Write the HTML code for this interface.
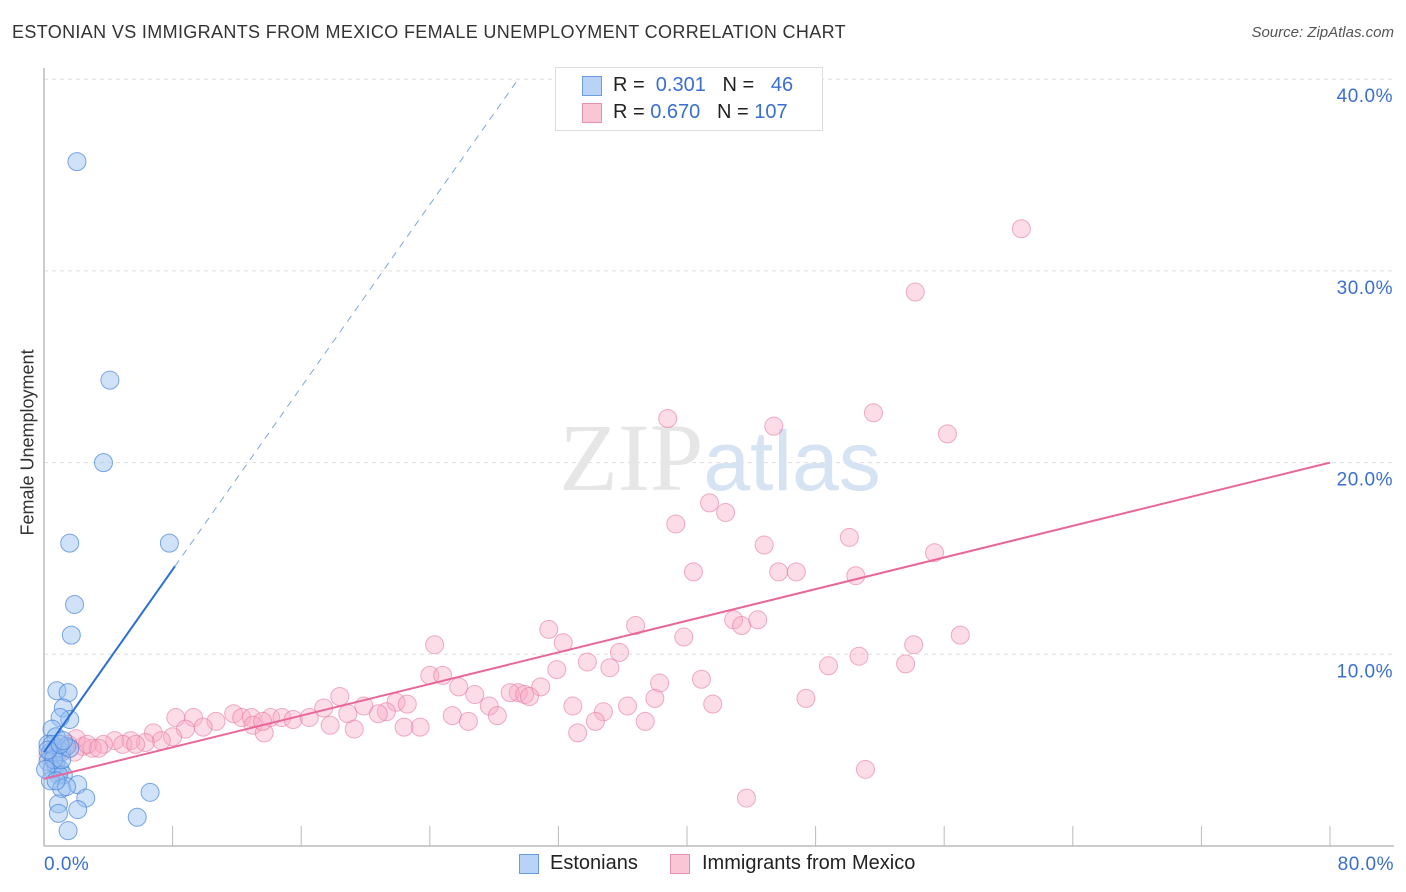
<!DOCTYPE html>
<html><head><meta charset="utf-8"><style>
body{margin:0;background:#fff;font-family:"Liberation Sans",sans-serif;}
#wrap{position:relative;width:1406px;height:892px;overflow:hidden;}
.t{position:absolute;white-space:nowrap;}
</style></head><body>
<div id="wrap">
<div class="t" style="left:12px;top:22px;font-size:18px;letter-spacing:0.35px;color:#333;">ESTONIAN VS IMMIGRANTS FROM MEXICO FEMALE UNEMPLOYMENT CORRELATION CHART</div>
<div class="t" style="right:12px;top:24px;font-size:15px;color:#555;font-style:italic;">Source: ZipAtlas.com</div>
<div class="t" style="left:-52px;top:445px;font-size:18px;color:#333;transform:rotate(-90deg);transform-origin:center;width:160px;text-align:center;">Female Unemployment</div>
<svg id="svg" width="1406" height="892" style="position:absolute;left:0;top:0"></svg>
</div>
<script>
const xTicks=[0,8,16,24,32,40,48,56,64,72,80];
const yTicks=[10,20,30,40];
const blueX=[2.05,4.1,3.7,1.6,7.8,1.9,1.7,0.8,1.5,1.2,1.6,1.0,0.5,0.75,0.25,0.9,0.4,1.1,0.6,0.25,0.75,1.0,0.5,1.2,0.9,0.4,1.1,2.1,1.4,2.6,6.6,0.9,0.9,2.1,1.5,5.8,0.5,1.4,0.6,0.1,1.1,1.6,0.25,0.75,1.0,1.2];
const blueY=[35.7,24.3,20.0,15.8,15.8,12.6,11.0,8.1,8.0,7.2,6.6,6.7,6.1,5.7,5.3,5.1,4.9,4.9,4.6,4.4,4.2,4.0,4.0,3.7,3.7,3.4,3.0,3.2,3.1,2.5,2.8,2.2,1.7,1.9,0.8,1.5,5.3,5.2,4.5,4.0,4.5,5.1,5.0,3.4,5.3,5.5];
const pinkX=[60.8,54.2,38.8,51.6,45.4,56.2,41.4,42.4,39.3,50.1,44.8,55.4,40.4,45.7,46.8,50.5,31.4,36.8,42.9,44.4,43.4,24.3,32.3,39.8,54.1,57.0,35.8,33.8,50.7,48.8,53.6,31.9,24.0,24.8,35.2,40.9,25.8,38.3,30.9,47.4,18.4,19.9,26.8,29.5,29.0,29.9,30.2,27.7,38.0,21.9,22.6,32.9,34.8,36.3,41.6,17.4,21.3,18.9,14.1,11.8,12.3,12.9,14.8,15.5,16.5,20.8,8.2,9.3,10.7,13.0,9.9,13.7,17.8,8.8,13.6,23.4,22.4,19.3,25.4,26.4,28.2,34.3,37.4,6.8,8.0,7.3,6.3,5.4,4.4,3.7,3.0,2.4,4.9,5.7,2.0,1.5,1.0,0.5,0.75,0.25,33.2,51.1,43.7,1.4,1.9,2.7,3.4];
const pinkY=[32.2,28.9,22.3,22.6,21.9,21.5,17.9,17.4,16.8,16.1,15.7,15.3,14.3,14.3,14.3,14.1,11.3,11.5,11.8,11.8,11.5,10.5,10.6,10.9,10.5,11.0,10.1,9.6,9.9,9.4,9.5,9.2,8.9,8.9,9.3,8.7,8.3,8.5,8.3,7.7,7.8,7.3,7.9,8.0,8.0,7.9,7.8,7.3,7.7,7.5,7.4,7.3,7.0,7.3,7.4,7.2,7.0,6.9,6.7,6.9,6.7,6.7,6.7,6.6,6.7,6.9,6.7,6.7,6.5,6.3,6.2,5.9,6.3,6.1,6.5,6.2,6.2,6.1,6.8,6.5,6.8,6.5,6.5,5.9,5.7,5.5,5.4,5.5,5.5,5.3,5.1,5.2,5.3,5.3,5.6,5.3,5.0,4.9,4.5,4.7,5.9,4.0,2.5,5.2,4.9,5.3,5.1];
const blueTrend=[4.9,1.19];
const pinkTrend=[3.5,0.20625];
const X=v=>44+v*1286/80, Y=v=>846-v*19.17;
const s=document.getElementById('svg'),NS='http://www.w3.org/2000/svg';
function mk(tag,at){const e=document.createElementNS(NS,tag);for(const k in at)e.setAttribute(k,at[k]);s.appendChild(e);return e;}
yTicks.forEach(v=>{
 const g=mk('line',{x1:44,x2:1394,y1:Y(v),y2:Y(v),stroke:'#ddd','stroke-dasharray':'4,4'});
 
 
 const t=mk('text',{x:1393,y:Y(v)+23,'text-anchor':'end','font-size':19,'letter-spacing':0.5,fill:'#3a6fd0','font-family':'Liberation Sans'});
 t.textContent=v.toFixed(1)+'%';
 
 
});
const ax=mk('line',{x1:44,x2:1394,y1:846,y2:846,stroke:'#bbb','stroke-width':1.5});


const ay=mk('line',{x1:44,x2:44,y1:68,y2:846,stroke:'#bbb','stroke-width':1.5});


xTicks.slice(1).forEach(v=>{
 const l=mk('line',{x1:X(v),x2:X(v),y1:826,y2:846,stroke:'#bbb'});
 
 
});
[[0,'start',44],[80,'end',1394]].forEach(([v,a,px])=>{
 const t=mk('text',{x:px,y:870,'text-anchor':a,'font-size':19,'letter-spacing':0.5,fill:'#3a6fd0','font-family':'Liberation Sans'});
 t.textContent=v.toFixed(1)+'%';
 
 
});
const wm=mk('text',{x:720,y:490,'text-anchor':'middle','font-size':96,'font-family':'Liberation Serif',fill:'#e6e6e6'});
wm.innerHTML='ZIP<tspan fill="#d6e3f3" font-family="Liberation Sans" font-size="84">atlas</tspan>';


pinkX.forEach((x,i)=>{
 const c=mk('circle',{cx:X(x),cy:Y(pinkY[i]),r:9,fill:'rgba(247,170,195,0.4)',stroke:'rgba(230,120,160,0.6)','stroke-width':1});
 
 
});
blueX.forEach((x,i)=>{
 const c=mk('circle',{cx:X(x),cy:Y(blueY[i]),r:9,fill:'rgba(150,190,240,0.45)',stroke:'rgba(70,130,220,0.7)','stroke-width':1});
 
 
});
const bx1=8.15, bx2=(40-blueTrend[0])/blueTrend[1];
const bl=mk('line',{x1:X(0),y1:Y(blueTrend[0]),x2:X(bx1),y2:Y(blueTrend[0]+blueTrend[1]*bx1),stroke:'#2a6fd6','stroke-width':2});


const bd=mk('line',{x1:X(bx1),y1:Y(blueTrend[0]+blueTrend[1]*bx1),x2:X(bx2),y2:Y(40),stroke:'#7aa5e0','stroke-width':1,'stroke-dasharray':'7,6'});


const pl=mk('line',{x1:X(0),y1:Y(pinkTrend[0]),x2:X(80),y2:Y(pinkTrend[0]+pinkTrend[1]*80),stroke:'#e8679a','stroke-width':2});


</script>
<div class="t" style="left:555px;top:67px;width:266px;height:62px;border:1px solid #ddd;background:#fff;">
 <div class="t" style="left:26px;top:8px;width:20px;height:20px;background:#b8d3f5;border:1px solid #6a9ee0;box-sizing:border-box;"></div>
 <div class="t" style="left:57px;top:6px;font-size:20px;color:#222;">R = <span style="color:#3a6fd0">&nbsp;0.301</span>&nbsp;&nbsp; N = <span style="color:#3a6fd0">&nbsp;&nbsp;46</span></div>
 <div class="t" style="left:26px;top:35px;width:20px;height:20px;background:#f9c6d6;border:1px solid #e890b0;box-sizing:border-box;"></div>
 <div class="t" style="left:57px;top:33px;font-size:20px;color:#222;">R = <span style="color:#3a6fd0">0.670</span>&nbsp;&nbsp; N = <span style="color:#3a6fd0">107</span></div>
</div>
<div class="t" style="left:519px;top:854px;width:20px;height:20px;background:#b8d3f5;border:1px solid #6a9ee0;box-sizing:border-box;"></div>
<div class="t" style="left:550px;top:852px;font-size:20px;color:#222;">Estonians</div>
<div class="t" style="left:670px;top:854px;width:20px;height:20px;background:#f9c6d6;border:1px solid #e890b0;box-sizing:border-box;"></div>
<div class="t" style="left:702px;top:852px;font-size:20px;color:#222;">Immigrants from Mexico</div>
</body></html>
